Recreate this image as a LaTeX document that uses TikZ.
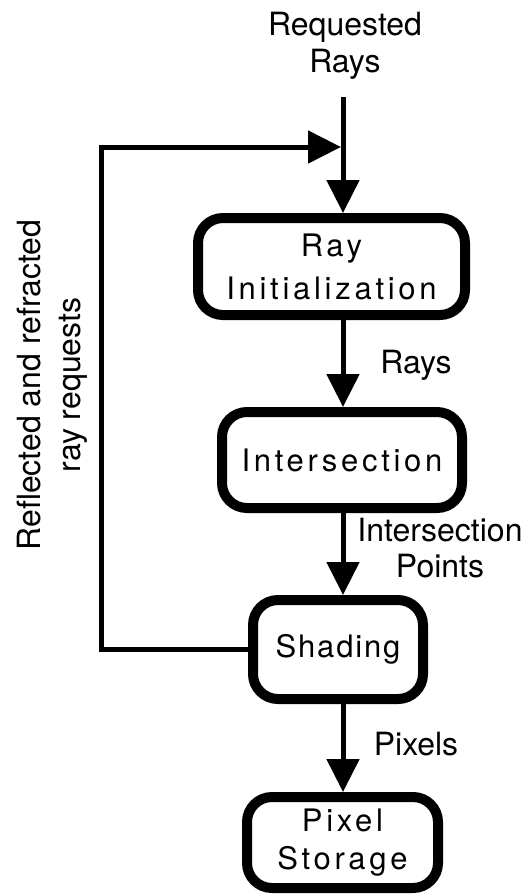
\documentclass[tikz,border=0pt]{standalone}
\usepackage{fontspec}
\setmainfont{TeX Gyre Heros}
\newfontfamily\boxfont[LetterSpace=12]{TeX Gyre Heros}
\newfontfamily\boxfontnarrow[LetterSpace=6]{TeX Gyre Heros}
\usetikzlibrary{arrows.meta}

\begin{document}
\begin{tikzpicture}[x=0.5pt,y=-0.5pt,
  stage/.style={draw, line width=5pt, rounded corners=12.5pt, inner sep=0pt,
    align=center, font={\boxfont\fontsize{15.5}{21.5}\selectfont}},
  flow/.style={line width=2.5pt, -{Triangle[length=16.5pt,width=16pt]}},
  lbl/.style={align=center, inner sep=0pt, anchor=base,
    font={\fontsize{16}{18.5}\selectfont}}]
  \useasboundingbox (0,0) rectangle (529,896);

  % processing stages
  \node[stage, minimum width=133.5pt, minimum height=48.5pt] (ri) at (331.5,266.5) {Ray\\Initialization};
  \node[stage, minimum width=120pt, minimum height=48pt] (is) at (342,460) {Intersection};
  \node[stage, minimum width=85pt, minimum height=49.5pt,
    font={\boxfontnarrow\fontsize{15.5}{19}\selectfont}] (sh) at (338,649.5) {Shading};
  \node[stage, minimum width=95.5pt, minimum height=45.5pt,
    font={\boxfont\fontsize{15.5}{19}\selectfont}] (ps) at (342.5,842.5) {Pixel\\Storage};

  % data labels (base anchor = baseline of the last line)
  \node[lbl] (req) at (345,72) {Requested\\Rays};
  \node[lbl] (rays) at (416,373) {Rays};
  \node[lbl, font={\fontsize{16}{18}\selectfont}] (ip) at (440,577) {Intersection\\Points};
  \node[lbl] (pix) at (416,755) {Pixels};
  \node[lbl, rotate=90, font={\fontsize{16}{20}\selectfont}] (refl) at (80,385)
    {Reflected and refracted\\ray requests};

  % main pipeline
  \coordinate (src) at (343,97);
  \draw[flow] (src) -- (src |- ri.north);
  \draw[flow] (ri.south -| src) -- (is.north -| src);
  \draw[flow] (is.south -| src) -- (sh.north -| src);
  \draw[flow] (sh.south -| src) -- (ps.north -| src);

  % feedback loop of secondary rays
  \coordinate (corner) at (101,147);
  \coordinate (merge) at (341,147);
  \draw[flow] (sh.west) -| (corner) -- (merge);
\end{tikzpicture}
\end{document}
